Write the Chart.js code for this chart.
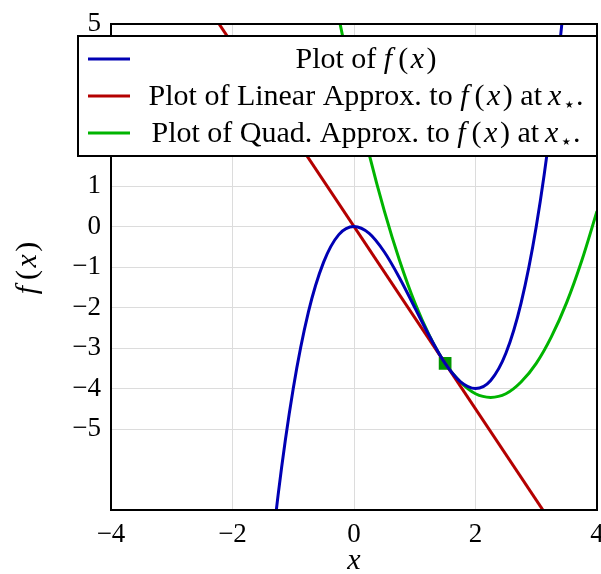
<!DOCTYPE html>
<html>
<head>
<meta charset="utf-8">
<script src="https://cdn.jsdelivr.net/npm/chart.js@4"></script>
<style>
  html, body { margin: 0; padding: 0; background: #fff; }
  canvas { display: block; }
</style>
</head>
<body>
<canvas id="graph" width="601" height="574"></canvas>
<script>
// values
const fX = [-1.5, -1.25, -1, -0.75, -0.5, -0.25, 0, 0.25, 0.5, 0.75, 1, 1.25, 1.5, 1.75, 2, 2.25, 2.5, 2.75, 3, 3.25, 3.5];
const fY = [-10.13, -6.64, -4, -2.11, -0.88, -0.2, 0, -0.17, -0.63, -1.27, -2, -2.73, -3.38, -3.83, -4, -3.8, -3.13, -1.89, 0, 2.64, 6.13];
const linX = [-2.5, 3.5];
const linY = [5.63, -7.88];
const quadX = [-0.5, -0.25, 0, 0.25, 0.5, 0.75, 1, 1.25, 1.5, 1.75, 2, 2.25, 2.5, 2.75, 3, 3.25, 3.5, 3.75, 4];
const quadY = [7.13, 5.16, 3.38, 1.78, 0.38, -0.84, -1.88, -2.72, -3.38, -3.84, -4.13, -4.22, -4.13, -3.84, -3.38, -2.72, -1.88, -0.84, 0.38];
const starX = [1.5];
const starY = [-3.38];
const xTicks = [-4, -2, 0, 2, 4];
const yTicks = [-5, -4, -3, -2, -1, 0, 1, 2, 3, 4, 5];

const BLUE = '#0000b4', RED = '#b40000', GREEN = '#00b400', DARKGREEN = '#009600';
const SERIF = '"Liberation Serif", "Times New Roman", serif';

const pts = (xs, ys) => xs.map((x, i) => ({ x: x, y: ys[i] }));
const minus = v => (v < 0 ? '\u2212' + Math.abs(v) : String(v));

// draw a line of text made of pieces with their own font
function richText(ctx, parts, x, y, align) {
  let w = 0;
  parts.forEach(p => { ctx.font = p.font; w += ctx.measureText(p.t).width; });
  let cx = align === 'center' ? x - w / 2 : x;
  parts.forEach(p => {
    ctx.font = p.font;
    ctx.fillText(p.t, cx, y + (p.dy || 0));
    cx += ctx.measureText(p.t).width;
  });
}

const rm = '30px ' + SERIF, it = 'italic 30px ' + SERIF, mrm = '30px ' + SERIF, sub = '20px ' + SERIF;
const fxParts = [{ t: 'f', font: it }, { t: '\u2009(', font: mrm }, { t: '\u200Ax', font: it }, { t: '\u200A)', font: mrm }];
const xstar = [{ t: 'x', font: it }, { t: '\u200A\u22C6', font: sub, dy: 6 }, { t: '.', font: rm }];
const legendRows = [
  { color: BLUE, parts: [{ t: 'Plot of ', font: rm }].concat(fxParts) },
  { color: RED, parts: [{ t: 'Plot of Linear Approx. to ', font: rm }].concat(fxParts, [{ t: ' at\u2009', font: rm }], xstar) },
  { color: GREEN, parts: [{ t: 'Plot of Quad. Approx. to ', font: rm }].concat(fxParts, [{ t: ' at\u2009', font: rm }], xstar) }
];

const framePlugin = {
  id: 'frame',
  afterDraw(chart) {
    const ctx = chart.ctx, a = chart.chartArea;
    ctx.save();
    ctx.strokeStyle = '#000';
    ctx.lineWidth = 2;
    ctx.strokeRect(a.left, a.top, a.right - a.left, a.bottom - a.top);

    // legend box
    ctx.fillStyle = '#fff';
    ctx.fillRect(78, 36, a.right - 78, 120);
    ctx.strokeRect(78, 36, a.right - 78, 120);
    ctx.textBaseline = 'alphabetic';
    ctx.textAlign = 'left';
    legendRows.forEach((r, i) => {
      const y = 59 + i * 37;
      ctx.strokeStyle = r.color;
      ctx.lineWidth = 3;
      ctx.beginPath();
      ctx.moveTo(88, y);
      ctx.lineTo(130, y);
      ctx.stroke();
      ctx.fillStyle = '#000';
      richText(ctx, r.parts, 366, y + 9, 'center');
    });

    // axis titles
    ctx.fillStyle = '#000';
    richText(ctx, [{ t: 'x', font: it }], 354, 569, 'center');
    ctx.translate(36, 268);
    ctx.rotate(-Math.PI / 2);
    richText(ctx, fxParts, 0, 0, 'center');
    ctx.restore();
  }
};

const ctx = document.getElementById('graph');
const myChart = new Chart(ctx, {
  type: 'scatter',
  data: {
    datasets: [
      { data: pts(fX, fY), borderColor: BLUE, borderWidth: 3, showLine: true, pointRadius: 0, cubicInterpolationMode: 'monotone', clip: 0 },
      { data: pts(linX, linY), borderColor: RED, borderWidth: 3, showLine: true, pointRadius: 0, clip: 0 },
      { data: pts(quadX, quadY), borderColor: GREEN, borderWidth: 3, showLine: true, pointRadius: 0, cubicInterpolationMode: 'monotone', clip: 0 },
      { data: pts(starX, starY), backgroundColor: DARKGREEN, borderColor: DARKGREEN, borderWidth: 0, pointStyle: 'rect', pointRadius: 9, showLine: false }
    ]
  },
  plugins: [framePlugin],
  options: {
    responsive: false,
    animation: false,
    layout: { autoPadding: false, padding: { left: 0, top: 24, right: 4, bottom: 0 } },
    plugins: { legend: { display: false }, tooltip: { enabled: false } },
    scales: {
      x: {
        type: 'linear', min: -4, max: 4,
        afterBuildTicks: s => { s.ticks = xTicks.map(v => ({ value: v })); },
        afterFit: s => { s.height = 64; s.paddingLeft = 0; s.paddingRight = 0; },
        grid: { color: '#dcdcdc', lineWidth: 1, drawTicks: false },
        border: { display: false },
        ticks: { color: '#000', padding: 9, font: { family: SERIF, size: 27 }, callback: minus, maxRotation: 0 }
      },
      y: {
        type: 'linear', min: -7, max: 5,
        afterBuildTicks: s => { s.ticks = yTicks.map(v => ({ value: v })); },
        afterFit: s => { s.width = 111; s.paddingTop = 0; s.paddingBottom = 0; },
        grid: { color: '#dcdcdc', lineWidth: 1, drawTicks: false },
        border: { display: false },
        ticks: { color: '#000', padding: 10, font: { family: SERIF, size: 27 }, callback: minus }
      }
    }
  }
});
</script>
</body>
</html>
